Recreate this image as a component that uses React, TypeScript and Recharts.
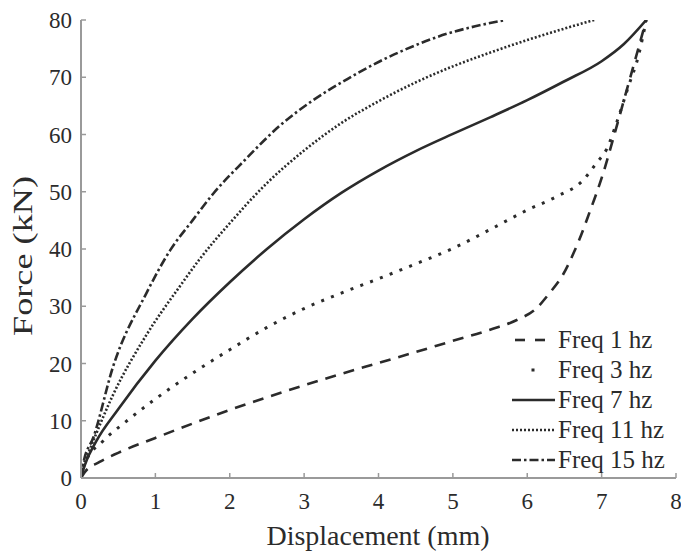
import React from 'react';
import { LineChart, Line, XAxis, YAxis, Legend } from 'recharts';

const X_TICKS = [0, 1, 2, 3, 4, 5, 6, 7, 8];
const Y_TICKS = [0, 10, 20, 30, 40, 50, 60, 70, 80];

const freq1X = [0, 0.05, 0.25, 0.5, 1, 1.5, 2, 2.5, 3, 3.5, 4, 4.5, 4.96, 5.5, 5.86, 6.12, 6.3, 6.48, 6.62, 6.75, 6.84, 6.93, 7.02, 7.15, 7.3, 7.45, 7.6];
const freq1F = [0, 1, 2.8, 4.4, 7, 9.5, 11.9, 14.1, 16.2, 18.2, 20.1, 22, 23.8, 25.9, 27.6, 29.6, 32.3, 35.5, 39.2, 43.3, 46.5, 49.7, 53.2, 59, 66, 73, 80];

const freq3X = [0, 0.05, 0.3, 0.6, 1, 1.5, 2, 2.5, 3, 3.5, 4, 4.5, 5, 5.5, 6, 6.4, 6.75, 6.93, 7.07, 7.2, 7.35, 7.5, 7.6];
const freq3F = [0, 2.5, 6.5, 9.8, 13.8, 18.3, 22.4, 26.3, 29.6, 32.3, 34.8, 37.4, 40.1, 43.4, 46.8, 49.2, 52, 55, 57.5, 62, 68, 74, 80];

const freq7X = [0, 0.05, 0.2, 0.5, 1, 1.5, 2, 2.5, 3, 3.5, 4, 4.5, 5, 5.5, 6, 6.5, 7, 7.3, 7.6];
const freq7F = [0, 2.2, 6.3, 12, 20.5, 27.8, 34.2, 40, 45.2, 49.8, 53.7, 57.1, 60.1, 63, 66, 69.3, 72.8, 75.8, 80];

const freq11X = [0, 0.03, 0.12, 0.43, 0.88, 1.33, 1.6, 2, 2.5, 3, 3.5, 4, 4.5, 5, 5.5, 6, 6.5, 6.9];
const freq11F = [0, 2, 5, 14.5, 25, 33.5, 38.3, 44.5, 51.5, 57.2, 62, 65.8, 69.1, 71.9, 74.3, 76.5, 78.5, 80];

const freq15X = [0, 0.03, 0.17, 0.43, 0.88, 1.2, 1.5, 1.78, 2.2, 2.67, 3.1, 3.57, 4.02, 4.5, 4.92, 5.3, 5.7];
const freq15F = [0, 2.5, 7.2, 19.4, 32.3, 39.8, 45, 49.7, 55.5, 61.5, 65.8, 69.6, 72.8, 75.6, 77.6, 78.9, 80];

const SERIES_NAMES = ['Freq 1 hz', 'Freq 3 hz', 'Freq 7 hz', 'Freq 11 hz', 'Freq 15 hz'];

const build = (xs: number[], fs: number[]) => xs.map((x, i) => ({ x, f: fs[i] }));

const INK = '#2b2b2b';
const AXIS = '#9a9a9a';
const FONT = "'Liberation Serif', 'DejaVu Serif', serif";

const styles = [
  { dash: '11 8', width: 2.6 },
  { dash: '3 7.5', width: 3 },
  { dash: undefined, width: 2.6 },
  { dash: '2 2', width: 2.6 },
  { dash: '9 3 2.5 3', width: 2.6 },
];

const seriesData = [
  build(freq1X, freq1F),
  build(freq3X, freq3F),
  build(freq7X, freq7F),
  build(freq11X, freq11F),
  build(freq15X, freq15F),
];

const LegendBox = () => {
  const rows = [20, 50, 80, 110, 140];
  return (
    <svg width={176} height={160} style={{ display: 'block' }}>
      {SERIES_NAMES.map((name, i) => (
        <g key={name}>
          {i === 1 ? (
            <rect x={26.5} y={rows[i] - 1.5} width={3} height={3} fill={INK} />
          ) : i === 0 ? (
            <>
              <line x1={10} x2={20} y1={rows[i]} y2={rows[i]} stroke={INK} strokeWidth={2.6} />
              <line x1={30} x2={40} y1={rows[i]} y2={rows[i]} stroke={INK} strokeWidth={2.6} />
            </>
          ) : (
            <line
              x1={7}
              x2={50}
              y1={rows[i]}
              y2={rows[i]}
              stroke={INK}
              strokeWidth={styles[i].width}
              strokeDasharray={styles[i].dash}
            />
          )}
          <text x={53} y={rows[i] + 8} fontSize={25} fontFamily={FONT} style={{ fontFamily: FONT }} fill={INK}>
            {name}
          </text>
        </g>
      ))}
    </svg>
  );
};

const YLabel = () => (
  <text
    x={32}
    y={256}
    transform="rotate(-90 32 256)"
    textAnchor="middle"
    fontSize={27}
    fontFamily={FONT}
    style={{ fontFamily: FONT }}
    fill={INK}
    textLength={160}
    lengthAdjust="spacingAndGlyphs"
  >
    Force (kN)
  </text>
);

const XLabel = () => (
  <text x={378} y={545} textAnchor="middle" fontSize={28} fontFamily={FONT} style={{ fontFamily: FONT }} fill={INK}>
    Displacement (mm)
  </text>
);

export default function App() {
  const tickStyle = { fontSize: 23, fontFamily: FONT, fill: INK, style: { fontFamily: FONT } };
  return (
    <div style={{ position: 'absolute', left: 0, top: 0, background: '#fff', fontFamily: FONT }}>
      <LineChart width={681} height={557} margin={{ top: 20, right: 5, bottom: 0, left: 0 }} style={{ fontFamily: FONT }}>
        <XAxis
          type="number"
          dataKey="x"
          domain={[0, 8]}
          ticks={X_TICKS}
          interval={0}
          allowDataOverflow
          height={79}
          stroke={AXIS}
          strokeWidth={2}
          tickSize={-5}
          tickMargin={20}
          tick={tickStyle}
          tickLine={{ stroke: AXIS, strokeWidth: 1.5 }}
          label={{ content: () => <XLabel /> }}
        />
        <YAxis
          type="number"
          dataKey="f"
          domain={[0, 80]}
          ticks={Y_TICKS}
          interval={0}
          allowDataOverflow
          width={81}
          stroke={AXIS}
          strokeWidth={2}
          tickSize={-5}
          tickMargin={14}
          tick={tickStyle}
          tickLine={{ stroke: AXIS, strokeWidth: 1.5 }}
          label={{ content: () => <YLabel /> }}
        />
        {seriesData.map((d, i) => (
          <Line
            key={SERIES_NAMES[i]}
            data={d}
            dataKey="f"
            name={SERIES_NAMES[i]}
            type="monotone"
            stroke={INK}
            strokeWidth={styles[i].width}
            strokeDasharray={styles[i].dash}
            dot={false}
            activeDot={false}
            isAnimationActive={false}
          />
        ))}
        <Legend
          layout="vertical"
          align="center"
          verticalAlign="middle"
          content={() => <LegendBox />}
          wrapperStyle={{ position: 'absolute', left: 505, top: 320, width: 176, height: 160 }}
        />
      </LineChart>
    </div>
  );
}
